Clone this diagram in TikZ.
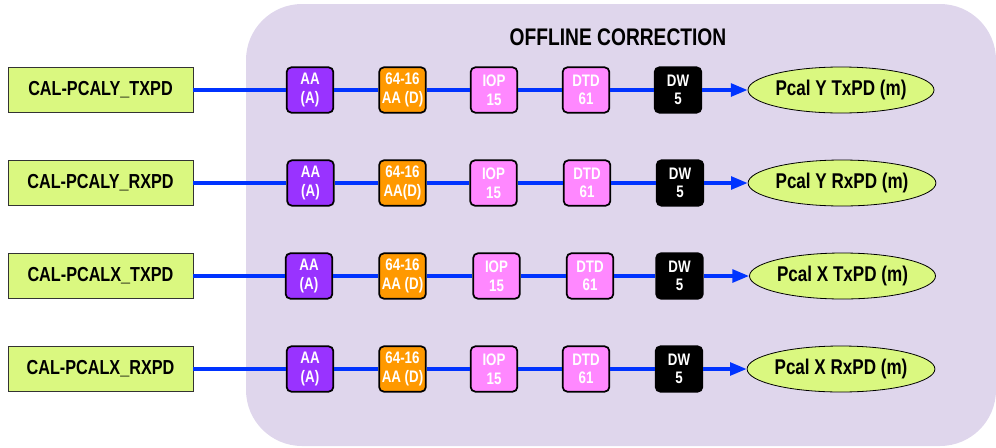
\documentclass[tikz,border=0pt]{standalone}
\usepackage{fontspec}
\newfontfamily\narrowfont{Liberation Sans}[FakeStretch=0.8]
\usepackage{tikz}
\usetikzlibrary{shapes.geometric,positioning,arrows.meta}
\definecolor{panelbg}{RGB}{223,214,236}
\definecolor{srcgreen}{RGB}{218,248,128}
\definecolor{aapurple}{RGB}{153,51,255}
\definecolor{ddorange}{RGB}{255,153,0}
\definecolor{iopink}{RGB}{255,136,255}
\definecolor{linkblue}{RGB}{0,51,255}

\begin{document}
\begin{tikzpicture}[x=0.75pt, y=-0.75pt,
    src/.style={draw=black!80, line width=0.6pt, fill=srcgreen, minimum width=138.75pt, minimum height=34pt, inner sep=0pt, font=\narrowfont\bfseries\fontsize{15.2}{18}\selectfont},
    blk/.style={draw=black, line width=1.3pt, rounded corners=3.5pt, minimum width=35pt, minimum height=34pt, inner sep=0pt, text=white, align=center, font=\narrowfont\bfseries\fontsize{12.5}{14}\selectfont},
    outnode/.style={ellipse, draw=black, line width=0.6pt, fill=srcgreen, minimum width=139.5pt, minimum height=34.5pt, inner sep=0pt, font=\narrowfont\bfseries\fontsize{16}{18}\selectfont},
    link/.style={draw=linkblue, line width=2.6pt},
    tip/.style={-{Triangle[length=12.5pt,width=9.5pt]}, fill=linkblue}]
    \useasboundingbox (0,0) rectangle (996,447);

    % Panel
    \fill[panelbg, rounded corners=42pt] (246,4) rectangle (996,446);
    \node[font=\narrowfont\bfseries\fontsize{18}{20}\selectfont] (title) at (618,37) {OFFLINE CORRECTION};

    % Row 1: Y Tx
    \node[src] (ytxIn) at (100.5,90) {CAL-PCALY\_TXPD};
    \node[blk, fill=aapurple] (ytxAA) at (310,90) {AA\\(A)};
    \node[blk, fill=ddorange] (ytxDD) at (402.5,90) {64-16\\AA (D)};
    \node[blk, fill=iopink] (ytxIOP) at (494,90) {IOP\\15};
    \node[blk, fill=iopink] (ytxDTD) at (586,90) {DTD\\61};
    \node[blk, fill=black] (ytxDW) at (678,90) {DW\\5};
    \node[outnode] (ytxOut) at (841,90) {Pcal Y TxPD (m)};
    \draw[link] (ytxIn) -- (ytxAA) -- (ytxDD) -- (ytxIOP) -- (ytxDTD) -- (ytxDW);
    \draw[link, tip] (ytxDW) -- (ytxOut);

    % Row 2: Y Rx
    \node[src] (yrxIn) at (100.5,183) {CAL-PCALY\_RXPD};
    \node[blk, fill=aapurple] (yrxAA) at (310.5,183) {AA\\(A)};
    \node[blk, fill=ddorange] (yrxDD) at (402.5,183) {64-16\\AA(D)};
    \node[blk, fill=iopink] (yrxIOP) at (493.5,183) {IOP\\15};
    \node[blk, fill=iopink] (yrxDTD) at (587,183) {DTD\\61};
    \node[blk, fill=black] (yrxDW) at (680,183) {DW\\5};
    \node[outnode] (yrxOut) at (842,183) {Pcal Y RxPD (m)};
    \draw[link] (yrxIn) -- (yrxAA) -- (yrxDD) -- (yrxIOP) -- (yrxDTD) -- (yrxDW);
    \draw[link, tip] (yrxDW) -- (yrxOut);

    % Row 3: X Tx
    \node[src] (xtxIn) at (100.5,276) {CAL-PCALX\_TXPD};
    \node[blk, fill=aapurple] (xtxAA) at (309,276) {AA\\(A)};
    \node[blk, fill=ddorange] (xtxDD) at (402.5,276) {64-16\\AA (D)};
    \node[blk, fill=iopink] (xtxIOP) at (496.5,276) {IOP\\15};
    \node[blk, fill=iopink] (xtxDTD) at (590,276) {DTD\\61};
    \node[blk, fill=black] (xtxDW) at (679.5,276) {DW\\5};
    \node[outnode] (xtxOut) at (842.5,276) {Pcal X TxPD (m)};
    \draw[link] (xtxIn) -- (xtxAA) -- (xtxDD) -- (xtxIOP) -- (xtxDTD) -- (xtxDW);
    \draw[link, tip] (xtxDW) -- (xtxOut);

    % Row 4: X Rx
    \node[src] (xrxIn) at (100.5,369) {CAL-PCALX\_RXPD};
    \node[blk, fill=aapurple] (xrxAA) at (310,369) {AA\\(A)};
    \node[blk, fill=ddorange] (xrxDD) at (402.5,369) {64-16\\AA (D)};
    \node[blk, fill=iopink] (xrxIOP) at (494,369) {IOP\\15};
    \node[blk, fill=iopink] (xrxDTD) at (586,369) {DTD\\61};
    \node[blk, fill=black] (xrxDW) at (679,369) {DW\\5};
    \node[outnode] (xrxOut) at (841,369) {Pcal X RxPD (m)};
    \draw[link] (xrxIn) -- (xrxAA) -- (xrxDD) -- (xrxIOP) -- (xrxDTD) -- (xrxDW);
    \draw[link, tip] (xrxDW) -- (xrxOut);
\end{tikzpicture}
\end{document}
